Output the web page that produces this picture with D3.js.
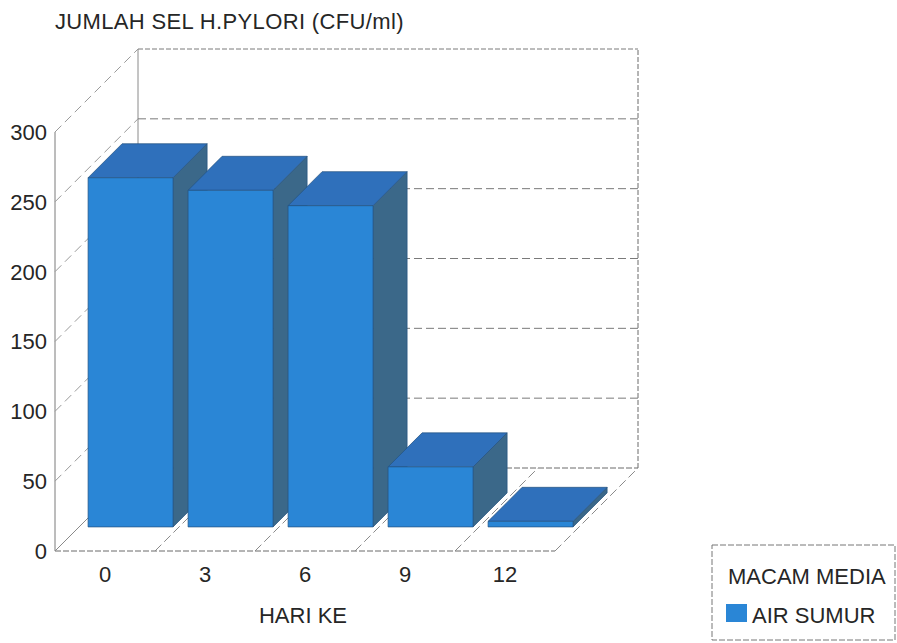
<!DOCTYPE html>
<html>
<head>
<meta charset="utf-8">
<script src="https://cdn.jsdelivr.net/npm/d3@7"></script>
<style>
  html, body { margin: 0; padding: 0; background: #fff; }
  svg { display: block; }
  text { font-family: "Liberation Sans", Arial, sans-serif; fill: #262626; }
</style>
</head>
<body>
<svg id="chart" width="897" height="643"></svg>
<script>
// Days of observation and H. pylori cell counts (CFU/ml) in well water
const days = ["0", "3", "6", "9", "12"];
const cellCounts = [250, 241, 230, 43, 4];
const yTicks = [0, 50, 100, 150, 200, 250, 300];
const seriesName = "AIR SUMUR";
const legendTitle = "MACAM MEDIA";
const chartTitle = "JUMLAH SEL H.PYLORI (CFU/ml)";
const xTitle = "HARI KE";

const svg = d3.select("#chart");

// Oblique 3D frame: front plane plus a depth offset up and to the right
const depth = 83;
const x = d3.scaleBand().domain(days).range([55, 555])
  .paddingInner(0.15).paddingOuter(0.075).align(0.6);
const y = d3.scaleLinear().domain([0, 300]).range([551, 132]);
const z = d3.scaleLinear().domain([0, 1]).range([0, depth]);
const barZ0 = 0.29, barZ1 = 0.70;

const P = (px, py, pz) => [px + z(pz), py - z(pz)];
const poly = pts => "M" + pts.map(p => p.join(",")).join("L") + "Z";

const x0 = x.range()[0], x1 = x.range()[1];
const yTop = y(300), yBase = y(0);

const grid = svg.append("g").attr("fill", "none");
function seg(a, b, dash, color) {
  grid.append("line").attr("x1", a[0]).attr("y1", a[1]).attr("x2", b[0]).attr("y2", b[1])
    .attr("stroke", color || "#8a8a8a").attr("stroke-width", 1)
    .attr("stroke-dasharray", dash || null);
}

// Walls: left side, back wall edges
seg(P(x0, yBase, 0), P(x0, yTop, 0), null, "#7a7a7a");
seg(P(x0, yBase, 1), P(x0, yTop, 1), null, "#8a8a8a");
seg(P(x1, yBase, 1), P(x1, yTop, 1), "5,2", "#6a6a6a");
seg(P(x0, yTop, 1), P(x1, yTop, 1), "5,2", "#7a7a7a");
seg(P(x0, yTop, 0), P(x0, yTop, 1), "9,5", "#9a9a9a");

// Value gridlines across the side and back walls
yTicks.filter(t => t > 0 && t < 300).forEach(t => {
  seg(P(x0, y(t), 0), P(x0, y(t), 1), "9,5", "#9a9a9a");
  seg(P(x0, y(t), 1), P(x1, y(t), 1), "8,4", "#7a7a7a");
});

// Floor outline and category dividers
seg(P(x0, yBase, 0), P(x1, yBase, 0), "6,2", "#6a6a6a");
seg(P(x0, yBase, 1), P(x1, yBase, 1), "6,2", "#6a6a6a");
seg(P(x0, yBase, 0), P(x0, yBase, 1), null, "#8a8a8a");
seg(P(x1, yBase, 0), P(x1, yBase, 1), "9,4", "#8a8a8a");
for (let i = 1; i < days.length; i++) {
  const xd = x0 + i * x.step();
  seg(P(xd, yBase, 0), P(xd, yBase, 1), "9,4", "#8a8a8a");
}

// Bars: side face, top face, front face
const colFront = "#2a86d6", colTop = "#2f70bb", colSide = "#3b6889", colEdge = "#24527f";
const bars = svg.append("g");
days.forEach((d, i) => {
  const v = cellCounts[i];
  const bx0 = x(d), bx1 = x(d) + x.bandwidth();
  const yt = y(v);
  const g = bars.append("g").attr("stroke", colEdge).attr("stroke-width", 0.7)
    .attr("stroke-linejoin", "round");
  g.append("path").attr("fill", colSide)
    .attr("d", poly([P(bx1, yBase, barZ0), P(bx1, yBase, barZ1), P(bx1, yt, barZ1), P(bx1, yt, barZ0)]));
  g.append("path").attr("fill", colTop)
    .attr("d", poly([P(bx0, yt, barZ0), P(bx1, yt, barZ0), P(bx1, yt, barZ1), P(bx0, yt, barZ1)]));
  g.append("path").attr("fill", colFront)
    .attr("d", poly([P(bx0, yBase, barZ0), P(bx1, yBase, barZ0), P(bx1, yt, barZ0), P(bx0, yt, barZ0)]));
});

// Axis labels
svg.append("g").selectAll("text").data(yTicks).join("text")
  .attr("x", 47).attr("y", t => y(t)).attr("dy", "0.36em")
  .attr("text-anchor", "end").attr("font-size", 22)
  .text(t => t);

svg.append("g").selectAll("text").data(days).join("text")
  .attr("x", (d, i) => x0 + (i + 0.5) * x.step()).attr("y", 582)
  .attr("text-anchor", "middle").attr("font-size", 22)
  .text(d => d);

svg.append("text").attr("x", 303).attr("y", 623).attr("text-anchor", "middle")
  .attr("font-size", 22).text(xTitle);

svg.append("text").attr("x", 55).attr("y", 29).attr("font-size", 22)
  .attr("letter-spacing", 0.35).text(chartTitle);

// Legend
const lg = svg.append("g");
lg.append("rect").attr("x", 712).attr("y", 545).attr("width", 183).attr("height", 95)
  .attr("fill", "#fff").attr("stroke", "#777").attr("stroke-width", 1).attr("stroke-dasharray", "6,2");
lg.append("text").attr("x", 728).attr("y", 584).attr("font-size", 22).text(legendTitle);
lg.append("rect").attr("x", 726).attr("y", 604).attr("width", 21).attr("height", 18)
  .attr("fill", colFront);
lg.append("text").attr("x", 752).attr("y", 623).attr("font-size", 22).text(seriesName);
</script>
</body>
</html>
